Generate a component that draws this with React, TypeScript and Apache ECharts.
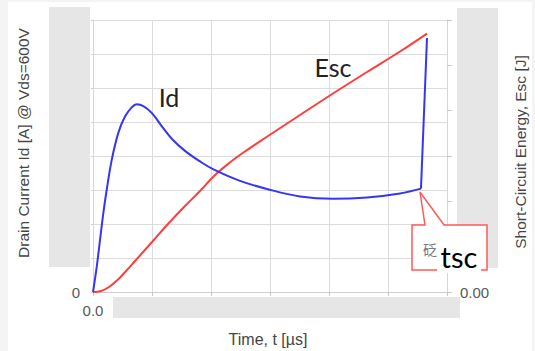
import React, { useEffect, useRef } from "react";
import * as echarts from "echarts";

// Drain current Id (left axis) vs time
const idTime = [0, 0.063, 0.119, 0.175, 0.232, 0.317, 0.429, 0.542, 0.656, 0.741, 0.853, 0.995, 1.164, 1.339, 1.559, 1.814, 2.051, 2.492, 2.949, 3.508, 4.068, 4.644, 5.203, 5.559];
const idCurrent = [0, 0.74, 1.53, 2.32, 3.0, 3.88, 4.68, 5.16, 5.43, 5.52, 5.47, 5.27, 4.88, 4.5, 4.15, 3.84, 3.6, 3.27, 3.03, 2.81, 2.74, 2.78, 2.9, 3.04];
// turn-off edge at tsc
const idTurnOffTime = [5.559, 5.661];
const idTurnOffCurrent = [3.04, 7.47];
// Short-circuit energy Esc (right axis)
const escTime = [0, 0.136, 0.271, 0.424, 0.576, 0.712, 1.0, 1.271, 1.559, 1.814, 2.051, 2.288, 2.525, 2.915, 3.508, 4.068, 4.644, 5.203, 5.661];
const escEnergy = [0, 0.022, 0.11, 0.276, 0.485, 0.684, 1.103, 1.5, 1.897, 2.228, 2.559, 2.824, 3.055, 3.397, 3.904, 4.379, 4.853, 5.305, 5.701];

// Visible tick labels (others are masked in the original)
const xTickLabels: Record<number, string> = { 0: "0.0" };
const leftTickLabels: Record<number, string> = { 0: "0" };
const rightTickLabels: Record<number, string> = { 0: "0.00" };

const xName = "Time, t [µs]";
const leftName = "Drain Current Id [A] @ Vds=600V";
const rightName = "Short-Circuit Energy, Esc [J]";

const zip = (a: number[], b: number[]) => a.map((v, i) => [v, b[i]]);

export default function App() {
  const ref = useRef<HTMLDivElement>(null);
  useEffect(() => {
    if (!ref.current) return;
    const chart = echarts.init(ref.current, null, { renderer: "svg" });
    const labelFont = { fontFamily: "Liberation Sans", fontSize: 15, color: "#595959" };
    const gridColor = "#dcdcdc";
    chart.setOption({
      animation: false,
      backgroundColor: "#f4f4f4",
      grid: { left: 93, right: 88, top: 20, bottom: 59, containLabel: false },
      xAxis: {
        type: "value",
        min: 0,
        max: 6,
        interval: 1,
        axisLine: { show: true, lineStyle: { color: "#cfcfcf", width: 1 } },
        axisTick: { show: true, length: 4, lineStyle: { color: "#c8c8c8" } },
        splitLine: { show: true, lineStyle: { color: gridColor, width: 1 } },
        axisLabel: { ...labelFont, margin: 11, formatter: (v: number) => xTickLabels[v] ?? "" },
      },
      yAxis: [
        {
          type: "value",
          min: 0,
          max: 8,
          interval: 1,
          axisLine: { show: true, lineStyle: { color: "#d6d6d6", width: 1 } },
          axisTick: { show: true, length: 2, lineStyle: { color: "#d0d0d0" } },
          splitLine: { show: true, lineStyle: { color: gridColor, width: 1 } },
          axisLabel: { ...labelFont, margin: 13, formatter: (v: number) => leftTickLabels[v] ?? "" },
        },
        {
          type: "value",
          position: "right",
          min: 0,
          max: 6,
          interval: 1,
          axisLine: { show: true, lineStyle: { color: "#d6d6d6", width: 1 } },
          axisTick: { show: true, length: 5, lineStyle: { color: "#c8c8c8" } },
          splitLine: { show: false },
          axisLabel: { ...labelFont, margin: 13, formatter: (v: number) => rightTickLabels[v] ?? "" },
        },
      ],
      series: [
        {
          name: "Id",
          type: "line",
          yAxisIndex: 0,
          data: zip(idTime, idCurrent),
          smooth: 0.4,
          showSymbol: false,
          lineStyle: { color: "#3535f5", width: 2 },
          z: 3,
        },
        {
          name: "Id turn-off",
          type: "line",
          yAxisIndex: 0,
          data: zip(idTurnOffTime, idTurnOffCurrent),
          smooth: false,
          showSymbol: false,
          lineStyle: { color: "#3535f5", width: 2 },
          z: 3,
        },
        {
          name: "Esc",
          type: "line",
          yAxisIndex: 1,
          data: zip(escTime, escEnergy),
          smooth: 0.4,
          showSymbol: false,
          lineStyle: { color: "#ff3d3d", width: 2 },
          z: 2,
        },
      ],
      graphic: [
        { type: "rect", z: -10, shape: { x: 8, y: 2, width: 524, height: 349 }, style: { fill: "#ffffff" }, silent: true },
        { type: "rect", z: 5, shape: { x: 49, y: 7, width: 41, height: 260 }, style: { fill: "#e6e6e6" }, silent: true },
        { type: "rect", z: 5, shape: { x: 457, y: 8, width: 41, height: 260 }, style: { fill: "#e6e6e6" }, silent: true },
        { type: "rect", z: 5, shape: { x: 113, y: 297, width: 347, height: 21 }, style: { fill: "#e6e6e6" }, silent: true },
        {
          type: "text", z: 10, x: 23, y: 143, rotation: Math.PI / 2,
          style: { text: leftName, fontFamily: "Liberation Sans", fontSize: 15.5, fill: "#454545", textAlign: "center", textVerticalAlign: "middle" },
        },
        {
          type: "text", z: 10, x: 520, y: 152, rotation: Math.PI / 2,
          style: { text: rightName, fontFamily: "Liberation Sans", fontSize: 15.5, fill: "#454545", textAlign: "center", textVerticalAlign: "middle" },
        },
        {
          type: "text", z: 10, x: 268, y: 339,
          style: { text: xName, fontFamily: "Liberation Sans", fontSize: 16, fill: "#454545", textAlign: "center", textVerticalAlign: "middle" },
        },
        {
          type: "text", z: 10, x: 169, y: 97,
          style: { text: "Id", fontFamily: "Lato", fontSize: 25, fill: "#222222", textAlign: "center", textVerticalAlign: "middle" },
        },
        {
          type: "text", z: 10, x: 333, y: 67,
          style: { text: "Esc", fontFamily: "Lato", fontSize: 25, fill: "#222222", textAlign: "center", textVerticalAlign: "middle" },
        },
        {
          type: "polygon", z: 10,
          shape: { points: [[412, 225], [425, 225], [420, 192], [444, 225], [487, 225], [487, 270], [412, 270]] },
          style: { fill: "#ffffff", stroke: "#ff5a5a", lineWidth: 1.5 },
        },
        { type: "rect", z: 11, shape: { x: 437, y: 241, width: 44, height: 32 }, style: { fill: "#ffffff" } },
        {
          type: "text", z: 12, x: 430, y: 249,
          style: { text: "砭", fontFamily: "Noto Sans CJK SC", fontSize: 14, fill: "#7a7a7a", textAlign: "center", textVerticalAlign: "middle" },
        },
        {
          type: "text", z: 12, x: 459, y: 256,
          style: { text: "tsc", fontFamily: "Lato", fontSize: 29, fill: "#000000", textAlign: "center", textVerticalAlign: "middle" },
        },
      ],
    });
    return () => chart.dispose();
  }, []);
  return (
    <div
      ref={ref}
      style={{ position: "fixed", left: 0, top: 0, width: 535, height: 351 }}
    />
  );
}
